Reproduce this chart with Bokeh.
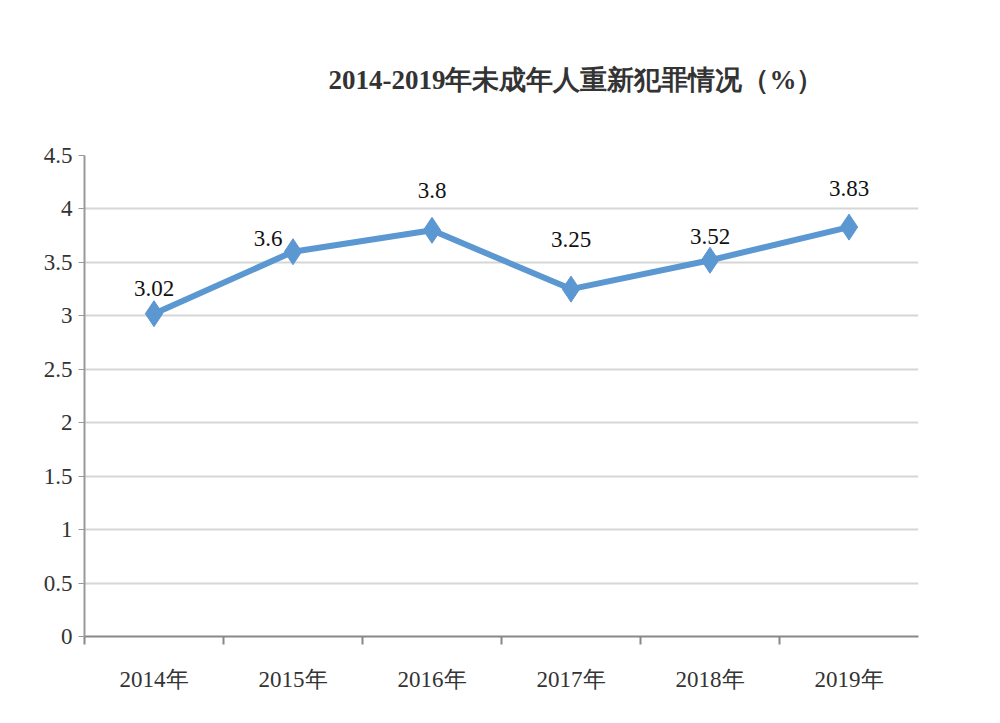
from bokeh.plotting import figure
from bokeh.models import FixedTicker, Title, ColumnDataSource
from bokeh.core.properties import value
from bokeh.embed import file_html
from bokeh.resources import INLINE

# data
years = ["2014年", "2015年", "2016年", "2017年", "2018年", "2019年"]
rates = [3.02, 3.6, 3.8, 3.25, 3.52, 3.83]
rate_labels = ["3.02", "3.6", "3.8", "3.25", "3.52", "3.83"]
y_ticks = [0, 0.5, 1, 1.5, 2, 2.5, 3, 3.5, 4, 4.5]

# label nudges in pixels (as placed in the original)
label_dx = [0, -25, 0, 0, 0, 0]
label_dy = [-18, -6, -32, -42, -16, -31]

FONT = "Times New Roman"
BLUE = "#5b97d1"
TEXT = "#333333"

xs = [i + 0.5 for i in range(len(years))]
src = ColumnDataSource(dict(x=xs, y=rates, lab=rate_labels, dx=label_dx, dy=label_dy))

p = figure(width=984, height=707, x_range=(0, len(years)), y_range=(0, 4.5),
           output_backend="svg", toolbar_location=None,
           min_border_left=84, min_border_right=66, min_border_top=155, min_border_bottom=71)

p.add_layout(Title(text="2014-2019年未成年人重新犯罪情况（%）", align="left", offset=244,
                   standoff=121, text_font=FONT, text_font_size="27px",
                   text_font_style="bold", text_color=TEXT), "above")

p.line("x", "y", source=src, line_color=BLUE, line_width=6)
p.scatter("x", "y", source=src, marker="diamond", size=26, fill_color=BLUE,
          line_color=BLUE)
p.text("x", "y", text="lab", source=src, x_offset="dx", y_offset="dy",
       text_align="center", text_baseline="bottom", text_font=value(FONT),
       text_font_size="23px", text_color="#111111")

# x axis: labels at category centres, ticks at boundaries
p.xaxis.ticker = FixedTicker(ticks=xs, minor_ticks=list(range(len(years))))
p.xaxis.major_label_overrides = {x: y for x, y in zip(xs, years)}
p.xaxis.major_tick_line_color = None
p.xaxis.minor_tick_line_color = "#888888"
p.xaxis.minor_tick_line_width = 2
p.xaxis.minor_tick_in = 0
p.xaxis.minor_tick_out = 8
p.xaxis.axis_line_color = "#888888"
p.xaxis.axis_line_width = 2
p.xaxis.major_label_standoff = 22
p.xaxis.major_label_text_font = FONT
p.xaxis.major_label_text_font_size = "23px"
p.xaxis.major_label_text_color = TEXT

# y axis
p.yaxis.ticker = FixedTicker(ticks=y_ticks)
p.yaxis.major_label_overrides = {t: f"{t:g}" for t in y_ticks}
p.yaxis.major_tick_in = 0
p.yaxis.major_tick_out = 6
p.yaxis.major_tick_line_color = "#999999"
p.yaxis.minor_tick_line_color = None
p.yaxis.axis_line_color = "#999999"
p.yaxis.axis_line_width = 2
p.yaxis.major_label_standoff = 6
p.yaxis.major_label_text_font = FONT
p.yaxis.major_label_text_font_size = "23px"
p.yaxis.major_label_text_color = TEXT

p.xgrid.grid_line_color = None
p.ygrid.grid_line_color = "#d6d6d6"
p.ygrid.grid_line_width = 2
p.outline_line_color = None
p.background_fill_color = "white"
p.border_fill_color = "white"

open("out.html", "w").write(file_html(p, INLINE))
